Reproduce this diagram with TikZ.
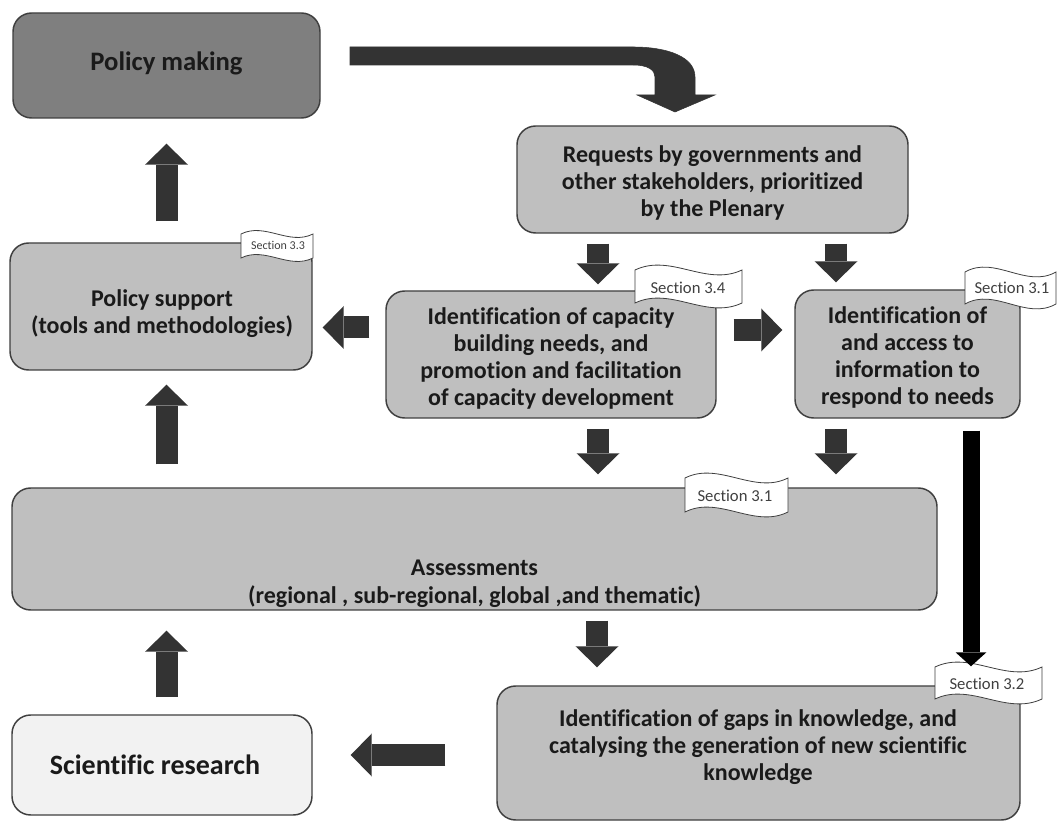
\documentclass[tikz,border=0pt]{standalone}
\usepackage{fontspec}
\setmainfont{Carlito}[Ligatures=NoCommon]
\usetikzlibrary{arrows.meta,calc}

\definecolor{boxgray}{HTML}{BFBFBF}
\definecolor{pmgray}{HTML}{7F7F7F}
\definecolor{srgray}{HTML}{F2F2F2}
\definecolor{edgegray}{HTML}{3F3F3F}
\definecolor{arrowgray}{HTML}{333333}
\definecolor{taggray}{HTML}{404040}
\definecolor{textblack}{HTML}{1A1A1A}

\begin{document}
\begin{tikzpicture}[x=0.75pt,y=0.75pt,yscale=-1,xscale=1,
    box/.style={draw=edgegray, line width=1.1pt, rounded corners=14pt, fill=boxgray, inner sep=0pt},
    boxtext/.style={align=center, inner sep=0pt, text=textblack, font=\fontsize{18}{20.25}\selectfont\bfseries},
    flag/.style={draw=edgegray, line width=0.6pt, fill=white},
    flagtext/.style={inner sep=0pt, text=taggray, font=\fontsize{12.5}{14}\selectfont},
    blk/.style={line width=16.5pt, draw=arrowgray, -{Triangle[width=32.25pt,length=15.75pt,line width=0pt]}},
    blkblack/.style={line width=12.75pt, draw=black, -{Triangle[width=23.25pt,length=10.5pt,line width=0pt]}},
    gap/.style 2 args={shorten <=#1*0.75pt, shorten >=#2*0.75pt}]
    \useasboundingbox (0,0) rectangle (1058,823);

    %Rounded Rect: policy making
    \node[box, fill=pmgray, minimum width=230.25pt, minimum height=78.75pt] (pm) at (166.5,65.5) {};
    %Rounded Rect: requests
    \node[box, minimum width=293.25pt, minimum height=80.25pt] (rq) at (712.5,179.5) {};
    %Rounded Rect: policy support
    \node[box, minimum width=226.5pt, minimum height=95.25pt] (ps) at (161,306.5) {};
    %Rounded Rect: capacity building
    \node[box, minimum width=247.5pt, minimum height=95.25pt] (cb) at (551,354.5) {};
    %Rounded Rect: access to information
    \node[box, minimum width=168.75pt, minimum height=96pt] (ac) at (907.5,354) {};
    %Rounded Rect: assessments
    \node[box, minimum width=693.75pt, minimum height=91.5pt] (as) at (474.5,549) {};
    %Rounded Rect: gaps in knowledge
    \node[box, minimum width=392.25pt, minimum height=100.5pt] (gp) at (758.5,753) {};
    %Rounded Rect: scientific research
    \node[box, fill=srgray, minimum width=225pt, minimum height=75pt] (sr) at (162,765) {};

    % Text Node
    \node[boxtext, font=\fontsize{20}{24}\selectfont\bfseries] (pmtext) at (166.5,63) {Policy making};
    % Text Node
    \node[boxtext] (rqtext) at (712.5,183) {Requests by governments and\\other stakeholders, prioritized\\by the Plenary};
    % Text Node
    \node[boxtext] (pstext) at (162,314) {Policy support\\(tools and methodologies)};
    % Text Node
    \node[boxtext] (cbtext) at (551,358.5) {Identification of capacity\\building needs, and\\promotion and facilitation\\of capacity development};
    % Text Node
    \node[boxtext] (actext) at (907.5,357) {Identification of\\and access to\\information to\\respond to needs};
    % Text Node
    \node[boxtext, font=\fontsize{18}{21}\selectfont\bfseries] (astext) at (474.5,584) {Assessments\\(regional , sub-regional, global ,and thematic)};
    % Text Node
    \node[boxtext] (gptext) at (758,747) {Identification of gaps in knowledge, and\\catalysing the generation of new scientific\\knowledge};
    % Text Node
    \node[boxtext, font=\fontsize{21}{24}\selectfont\bfseries] (srtext) at (155,765) {Scientific research};

    %Wave: section 3.3
    \draw[flag] (241,234) .. controls (265,222) and (289,246) .. (313,234) -- (313,258) .. controls (289,270) and (265,246) .. (241,258) -- cycle;
    \node[flagtext, font=\fontsize{9}{11}\selectfont] (t33) at (278,245) {Section 3.3};
    %Wave: section 3.4
    \draw[flag] (635,270) .. controls (671,253) and (706,287) .. (742,270) -- (742,303) .. controls (706,320) and (671,286) .. (635,303) -- cycle;
    \node[flagtext] (t34) at (688,288) {Section 3.4};
    %Wave: section 3.1 (top)
    \draw[flag] (965,272) .. controls (995,255) and (1026,289) .. (1056,272) -- (1056,304) .. controls (1026,321) and (995,287) .. (965,304) -- cycle;
    \node[flagtext] (t31a) at (1012,288) {Section 3.1};
    %Wave: section 3.1 (assessments)
    \draw[flag] (685,478) .. controls (719,461) and (754,495) .. (788,478) -- (788,512) .. controls (754,529) and (719,495) .. (685,512) -- cycle;
    \node[flagtext] (t31b) at (735,496) {Section 3.1};
    %Wave: section 3.2
    \draw[flag] (935,667) .. controls (971,650) and (1006,684) .. (1042,667) -- (1042,699) .. controls (1006,716) and (971,682) .. (935,699) -- cycle;
    \node[flagtext] (t32) at (987,684) {Section 3.2};

    %Block Arrows
    \draw[blk, gap={21}{25}] (pm.south |- ps.north) -- (pm.south);
    \draw[blk, gap={16}{10}] ($(cb.west)+(0,-27)$) -- ($(ps.east |- cb.west)+(0,-27)$);
    \draw[blk, gap={10}{6}] ($(rq.south -| cb.north)+(47,0)$) -- ($(cb.north)+(47,0)$);
    \draw[blk, gap={10}{7}] ($(rq.south -| ac.north)+(-71.5,0)$) -- ($(ac.north)+(-71.5,0)$);
    \draw[blk, gap={17}{12}] ($(cb.east)+(0,-24.5)$) -- ($(ac.west |- cb.east)+(0,-24.5)$);
    \draw[blk, gap={10}{13}] ($(cb.south)+(47,0)$) -- ($(as.north -| cb.south)+(47,0)$);
    \draw[blk, gap={10}{13}] ($(ac.south)+(-71.5,0)$) -- ($(as.north -| ac.south)+(-71.5,0)$);
    \draw[blk, gap={23}{14}] (pm.south |- as.north) -- (pm.south |- ps.south);
    \draw[blk, gap={17}{20}] (pm.south |- sr.north) -- (pm.south |- as.south);
    \draw[blk, gap={10}{18}] ($(as.south -| gp.north)+(-161.5,0)$) -- ($(gp.north)+(-161.5,0)$);
    \draw[blkblack, gap={12}{19}] ($(ac.south)+(63.5,0)$) -- ($(gp.north -| ac.south)+(63.5,0)$);
    \draw[blk, gap={51}{38}] ($(gp.west)+(0,2)$) -- ($(sr.east |- gp.west)+(0,2)$);

    %Curved Arrow: policy making to requests
    \draw[draw=arrowgray, fill=arrowgray] (350,47) -- (633,47) .. controls (668,47) and (695,57) .. (695,77) -- (695,95) -- (715,95) -- (675,112) -- (637,95) -- (655,95) -- (655,77) .. controls (655,70) and (648,65) .. (633,65) -- (350,65) -- cycle;

\end{tikzpicture}
\end{document}
